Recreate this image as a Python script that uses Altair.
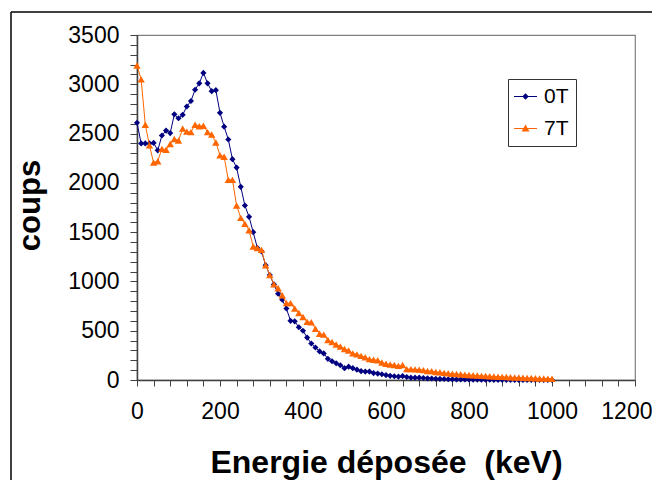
import altair as alt
import pandas as pd

energy_kev = [0, 10, 20, 30, 40, 50, 60, 70, 80, 90,
              100, 110, 120, 130, 140, 150, 160, 170, 180, 190,
              200, 210, 220, 230, 240, 250, 260, 270, 280, 290,
              300, 310, 320, 330, 340, 350, 360, 370, 380, 390,
              400, 410, 420, 430, 440, 450, 460, 470, 480, 490,
              500, 510, 520, 530, 540, 550, 560, 570, 580, 590,
              600, 610, 620, 630, 640, 650, 660, 670, 680, 690,
              700, 710, 720, 730, 740, 750, 760, 770, 780, 790,
              800, 810, 820, 830, 840, 850, 860, 870, 880, 890,
              900, 910, 920, 930, 940, 950, 960, 970, 980, 990, 1000]

counts_0T = [2610, 2400, 2400, 2400, 2405, 2330, 2480, 2530, 2505, 2695,
             2655, 2690, 2775, 2830, 2945, 3010, 3115, 3010, 2930, 2940,
             2710, 2570, 2440, 2240, 2155, 1960, 1770, 1655, 1500, 1340,
             1305, 1165, 1065, 970, 875, 815, 725, 600, 595, 535,
             500, 430, 370, 330, 290, 270, 215, 190, 170, 150,
             120, 135, 120, 105, 90, 85, 85, 70, 65, 58,
             50, 42, 38, 34, 40, 30, 24, 24, 24, 20,
             17, 15, 13, 11, 10, 8, 7, 6, 6, 5,
             5, 4, 4, 3, 3, 3, 2, 2, 2, 2,
             1, 1, 1, 1, 1, 1, 1, 0, 0, 0, 0]

counts_7T = [3190, 3050, 2590, 2380, 2205, 2220, 2345, 2335, 2395, 2445,
             2430, 2550, 2520, 2515, 2590, 2575, 2580, 2515, 2490, 2410,
             2280, 2265, 2030, 2030, 1770, 1645, 1585, 1520, 1355, 1340,
             1320, 1165, 1065, 970, 930, 860, 780, 780, 725, 680,
             640, 590, 585, 520, 470, 460, 405, 385, 360, 340,
             315, 300, 270, 260, 245, 230, 212, 205, 200, 178,
             165, 158, 153, 143, 152, 110, 110, 108, 105, 100,
             92, 90, 82, 78, 72, 68, 64, 60, 58, 54,
             51, 48, 45, 42, 40, 38, 35, 33, 32, 30,
             28, 26, 25, 22, 20, 20, 18, 16, 15, 14, 12]

series_names = ["0T", "7T"]
series_colors = ["#000080", "#FF6600"]

x_tick_values = [0, 40, 80, 120, 160, 200, 240, 280, 320, 360, 400, 440, 480,
                 520, 560, 600, 640, 680, 720, 760, 800, 840, 880, 920, 960,
                 1000, 1040, 1080, 1120, 1160, 1200]
y_tick_values = [0, 100, 200, 300, 400, 500, 600, 700, 800, 900, 1000, 1100,
                 1200, 1300, 1400, 1500, 1600, 1700, 1800, 1900, 2000, 2100,
                 2200, 2300, 2400, 2500, 2600, 2700, 2800, 2900, 3000, 3100,
                 3200, 3300, 3400, 3500]

# legend symbols: short line with marker on it
legend_symbols = [
    "M-1.15,-0.06H1.15V0.06H-1.15Z M0,-0.32L0.32,0L0,0.32L-0.32,0Z",
    "M-1.15,-0.06H1.15V0.06H-1.15Z M0,-0.4L0.4,0.3L-0.4,0.3Z",
]

n = len(energy_kev)
df = pd.DataFrame({
    "energy": energy_kev + energy_kev,
    "counts": counts_0T + counts_7T,
    "series": [series_names[0]] * n + [series_names[1]] * n,
})

FONT = "Liberation Sans"
AXC = "#404040"

x_enc = alt.X(
    "energy:Q",
    scale=alt.Scale(domain=[0, 1200], nice=False, zero=False),
    axis=alt.Axis(
        values=x_tick_values,
        labelExpr="datum.value % 200 == 0 ? format(datum.value, 'd') : ''",
        labelOverlap=False, labelFlush=False, labelBound=False,
        labelAlign={"condition": {"test": "datum.value == 1200", "value": "right"}, "value": "center"},
        labelOffset={"condition": {"test": "datum.value == 1200", "value": 17}, "value": 0},
        grid=False, tickSize=6, tickColor=AXC, domainColor=AXC, domainWidth=1.5,
        labelFont=FONT, labelFontSize=23, labelColor="black", labelPadding=14,
        title="Energie déposée \u00a0(keV)", titleFont=FONT, titleFontSize=32,
        titleFontWeight="bold", titleColor="black",
        titleX=249, titleY=92, titleAlign="center", titleBaseline="alphabetic",
    ),
)
y_enc = alt.Y(
    "counts:Q",
    scale=alt.Scale(domain=[0, 3500], nice=False),
    axis=alt.Axis(
        values=y_tick_values,
        labelExpr="datum.value % 500 == 0 ? format(datum.value, 'd') : ''",
        labelOverlap=False, labelFlush=False, labelBound=False,
        grid=False, tickSize=7, tickColor=AXC, domainColor=AXC, domainWidth=1.5,
        labelFont=FONT, labelFontSize=23, labelColor="black", labelPadding=11,
        title="coups", titleFont=FONT, titleFontSize=31,
        titleFontWeight="bold", titleColor="black", titleAngle=270,
        titleX=-98, titleY=170, titleAlign="center", titleBaseline="alphabetic",
    ),
)

base = alt.Chart(df)

blue = base.transform_filter(alt.datum.series == series_names[0])
orange = base.transform_filter(alt.datum.series == series_names[1])

blue_line = blue.mark_line(color=series_colors[0], strokeWidth=1).encode(x=x_enc, y=y_enc)
blue_pts = blue.mark_point(shape="diamond", filled=True, size=38, opacity=1,
                           color=series_colors[0]).encode(x=x_enc, y=y_enc)
orange_line = orange.mark_line(color=series_colors[1], strokeWidth=1).encode(x=x_enc, y=y_enc)
orange_pts = orange.mark_point(shape="triangle-up", filled=True, size=55, opacity=1,
                               color=series_colors[1]).encode(x=x_enc, y=y_enc)

legend_props = dict(
    title=None, orient="none", legendX=371, legendY=44, direction="vertical",
    padding=7, fillColor="white", strokeColor="#333333",
    labelFont=FONT, labelFontSize=21, labelColor="black",
    symbolSize=400, labelOffset=8, rowPadding=10, symbolStrokeWidth=0,
)
legend_layer = base.transform_filter("false").mark_point(filled=True, opacity=1, size=400).encode(
    x=x_enc, y=y_enc,
    color=alt.Color("series:N", scale=alt.Scale(domain=series_names, range=series_colors),
                    legend=alt.Legend(**legend_props)),
    shape=alt.Shape("series:N", scale=alt.Scale(domain=series_names, range=legend_symbols),
                    legend=alt.Legend(**legend_props)),
)

frame_src = alt.Chart(alt.Data(values=[{"k": 0}]))
frame_top = frame_src.mark_rule(color="black", strokeWidth=1.5, clip=False).encode(
    x=alt.value(-126), x2=alt.value(540), y=alt.value(-23))
frame_left = frame_src.mark_rule(color="black", strokeWidth=1.5, clip=False).encode(
    x=alt.value(-126), y=alt.value(-23), y2=alt.value(460))

chart = alt.layer(
    frame_top, frame_left, blue_line, blue_pts, orange_line, orange_pts, legend_layer
).properties(
    width=498, height=345,
    autosize=alt.AutoSizeParams(type="none"),
    padding={"left": 129, "top": 27, "right": 17, "bottom": 100},
    background="white",
).configure_view(stroke="#808080", strokeWidth=1.2)

chart.save("out.html", embed_options={"renderer": "svg", "actions": False})
